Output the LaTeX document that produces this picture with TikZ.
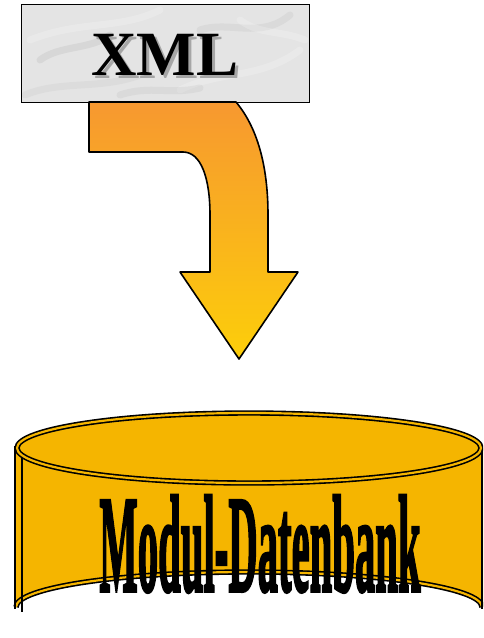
\documentclass[tikz,border=0pt]{standalone}
\usepackage{fontspec}
\setmainfont{Liberation Serif}
\newfontfamily\heavyfont[FakeBold=2.5]{Liberation Serif Bold}
\definecolor{arrtop}{RGB}{247,152,48}
\definecolor{arrbot}{RGB}{252,206,10}
\definecolor{dbfill}{RGB}{245,181,0}
\definecolor{marble}{RGB}{228,228,228}
\tikzset{
  outl/.style={draw=black, line width=1.6pt, line join=round},
  dbline/.style={draw=black, line width=1.6pt, double=dbfill, double distance=2.2pt},
  streak/.style={line width=7pt, line cap=round, opacity=0.2},
}
\begin{document}
\begin{tikzpicture}[x=1pt,y=-1pt]
\useasboundingbox (0,0) rectangle (483,638);
\clip (0,0) rectangle (483,638);
% XML box with marble look
\fill[marble] (21,4) rectangle (309,102);
\begin{scope}
\clip (21,4) rectangle (309,102);
\draw[streak, white] (30,40) .. controls (80,20) and (120,30) .. (160,10);
\draw[streak, gray!70] (40,60) .. controls (60,45) and (90,50) .. (110,35);
\draw[streak, white] (180,90) .. controls (220,70) and (260,80) .. (300,50);
\draw[streak, gray!60] (200,30) .. controls (230,20) and (260,40) .. (290,15);
\draw[streak, gray!50] (25,95) .. controls (60,80) and (100,90) .. (140,75);
\draw[streak, white] (240,20) .. controls (260,35) and (280,30) .. (305,40);
\draw[streak, gray!60] (120,95) .. controls (150,85) and (170,95) .. (200,88);
\end{scope}
\node[draw=black, line width=1pt, minimum width=288pt, minimum height=98pt, inner sep=0pt] (xml) at (165,53) {};
\node[font=\bfseries\fontsize{63}{63}\selectfont, inner sep=0pt] (xmltext) at (165,56)
  {\makebox[0pt][l]{\hspace{3pt}\raisebox{-3pt}{\color{gray!70}XML}}XML};
% bent arrow
\shade[top color=arrtop, bottom color=arrbot, outl]
 (89,102) -- (89,152) -- (183,152)
 .. controls (201,152) and (210,178) .. (210,215)
 -- (210,272) -- (180,272) -- (239,359) coordinate (tip) -- (298,272) -- (268,272) -- (268,215)
 .. controls (268,165) and (257,127) .. (236,102) -- cycle;
% database cylinder
\fill[dbfill] (15,448) -- (15,607) arc[start angle=180, end angle=360, x radius=234, y radius=36] -- (483,448) -- cycle;
\draw[dbline] (16,607) arc[start angle=180, end angle=360, x radius=233, y radius=35];
\draw[black, line width=1.4pt] (15,446) -- (15,609);
\draw[black, line width=1.4pt] (22,452) -- (22,612);
\draw[black, line width=1.4pt] (482,446) -- (482,609);
\fill[dbfill] (249,448) ellipse[x radius=234, y radius=36];
\draw[dbline] (249,448) ellipse[x radius=232, y radius=35];
\node[font=\heavyfont\fontsize{138}{138}\selectfont, inner sep=0pt] (db) at (260,544) {\scalebox{0.295}[1]{Modul-Datenbank}};
\end{tikzpicture}
\end{document}
